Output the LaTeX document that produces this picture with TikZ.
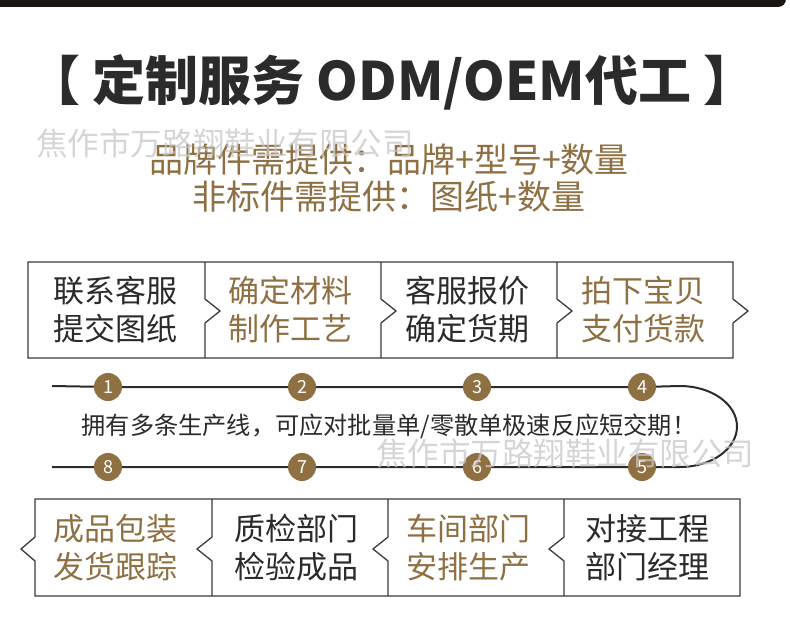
\documentclass[tikz,border=0pt]{standalone}
\usepackage{fontspec}
\setmainfont{Noto Sans CJK SC}
\definecolor{gold}{HTML}{8F7043}
\definecolor{tdark}{HTML}{2B2B2B}
\definecolor{lineg}{HTML}{3A3A3A}
\definecolor{wmark}{HTML}{C8C8C8}
\definecolor{topbar}{HTML}{1C1612}
\tikzset{
  boxtext/.style={align=center, font=\fontsize{31}{38}\selectfont, inner sep=0pt},
  darktext/.style={boxtext, text=tdark},
  goldtext/.style={boxtext, text=gold},
  subtext/.style={text=gold, font=\fontsize{34}{34}\selectfont, inner sep=0pt},
  frame/.style={draw=lineg, line width=1.3pt, line join=miter},
  stepdot/.style={circle, fill=gold, minimum size=28pt, inner sep=0pt, text=white, font=\fontsize{18}{18}\selectfont},
  tline/.style={draw=tdark, line width=2pt},
  wm/.style={text=wmark, opacity=0.75, font=\fontsize{31.5}{31.5}\selectfont, inner sep=0pt}
}
\begin{document}
\begin{tikzpicture}[x=1pt,y=-1pt]
\useasboundingbox (0,0) rectangle (790,618);
\fill[white] (0,0) rectangle (790,618);
\fill[topbar, rounded corners=8pt] (-20,-20) rectangle (786,7);

% title
\node[text=tdark, font=\bfseries\fontsize{53}{53}\selectfont, inner sep=0pt] (title) at (392,82) {【 定制服务 ODM/OEM代工 】};
\node[subtext] (sub1) at (389,160) {品牌件需提供：品牌+型号+数量};
\node[subtext] (sub2) at (389,197) {非标件需提供：图纸+数量};

% top row frames
\draw[frame] (28,262) -- (733,262) -- (733,299) -- (748,311) -- (733,323) -- (733,358) -- (28,358) -- cycle;
\foreach \x in {205,381,557}{
  \draw[frame] (\x,262) -- (\x,299) -- (\x+15,311) -- (\x,323) -- (\x,358);
}
\node[darktext] (t1) at (115.5,310) {联系客服\\提交图纸};
\node[goldtext] (t2) at (290,310) {确定材料\\制作工艺};
\node[darktext] (t3) at (467.5,310) {客服报价\\确定货期};
\node[goldtext] (t4) at (643,310) {拍下宝贝\\支付货款};

% bottom row frames
\draw[frame] (35,499) -- (740,499) -- (740,596) -- (35,596) -- (35,561) -- (21,549) -- (35,537) -- cycle;
\foreach \x in {212,388,564}{
  \draw[frame] (\x,499) -- (\x,537) -- (\x-15,549) -- (\x,561) -- (\x,596);
}
\node[goldtext] (b1) at (115.7,548) {成品包装\\发货跟踪};
\node[darktext] (b2) at (296,548) {质检部门\\检验成品};
\node[goldtext] (b3) at (468,548) {车间部门\\安排生产};
\node[darktext] (b4) at (647,548) {对接工程\\部门经理};

% timeline
\coordinate (ts) at (52,386);
\coordinate (bs) at (52,467);
\coordinate (ce1) at (680,386);
\coordinate (ce2) at (680,467);
\node[stepdot] (c1) at (108,387) {1};
\node[stepdot] (c2) at (302,387) {2};
\node[stepdot] (c3) at (477,387) {3};
\node[stepdot] (c4) at (642,387) {4};
\node[stepdot] (c5) at (642,467) {5};
\node[stepdot] (c6) at (477,467) {6};
\node[stepdot] (c7) at (302,467) {7};
\node[stepdot] (c8) at (108,467) {8};
\draw[tline] (ts) -- (c1) (c1) -- (c2) (c2) -- (c3) (c3) -- (c4)
  (c4) -- (ce1) arc[start angle=-90, end angle=90, x radius=57pt, y radius=-40.5pt] (ce2) -- (c5)
  (c5) -- (c6) (c6) -- (c7) (c7) -- (c8) (c8) -- (bs);
\node[text=tdark, font=\fontsize{24.2}{24.2}\selectfont, inner sep=0pt] (mid) at (389,426) {拥有多条生产线，可应对批量单/零散单极速反应短交期！};

% watermarks
\node[wm] (wm1) at (225,143) {焦作市万路翔鞋业有限公司};
\node[wm] (wm2) at (565,453) {焦作市万路翔鞋业有限公司};
\end{tikzpicture}
\end{document}
